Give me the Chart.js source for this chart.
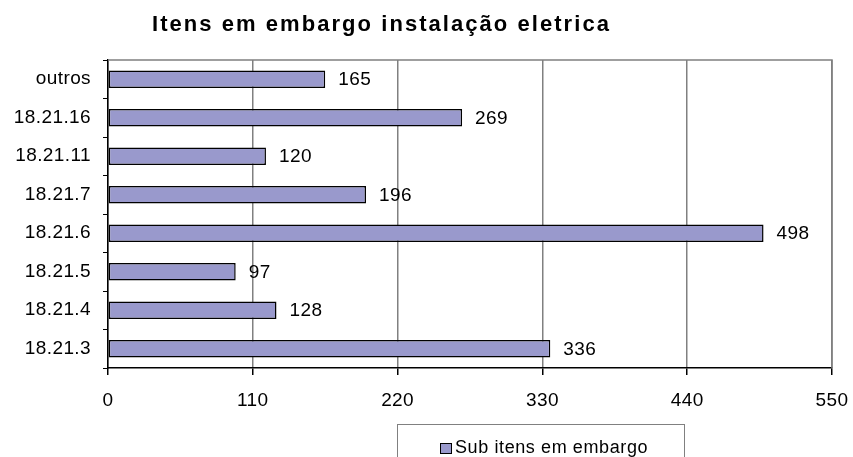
<!DOCTYPE html>
<html lang="pt">
  <head>
    <meta charset="UTF-8" />
    <title>Itens em embargo instalação eletrica</title>
    <script src="https://cdn.jsdelivr.net/npm/chart.js"></script>
    <style>
      body {
        margin: 0;
        background: #fff;
        font-family: "Liberation Sans", Arial, sans-serif;
      }
      .wrap {
        position: relative;
        width: 853px;
        height: 457px;
        overflow: hidden;
      }
      h1 {
        position: absolute;
        left: 152px;
        top: 11px;
        margin: 0;
        white-space: nowrap;
        font-size: 22px;
        font-weight: bold;
        letter-spacing: 2.05px;
        color: #000;
      }
      .legend {
        position: absolute;
        left: 397px;
        top: 424px;
        width: 288px;
        height: 60px;
        border: 1.5px solid #808080;
        box-sizing: border-box;
        font-size: 18px;
        letter-spacing: 0.6px;
        color: #000;
      }
      .legend span.box {
        position: absolute;
        left: 42px;
        top: 18px;
        width: 10px;
        height: 9px;
        background: #9999cc;
        border: 1px solid #000;
      }
      .legend span.txt {
        position: absolute;
        left: 57px;
        top: 12px;
        white-space: nowrap;
      }
    </style>
  </head>
  <body>
    <div class="wrap">
      <canvas id="chart" width="853" height="457"></canvas>
      <h1>Itens em embargo instalação eletrica</h1>
      <div class="legend"><span class="box"></span><span class="txt">Sub itens em embargo</span></div>
    </div>

    <script>
      const categories = ["outros", "18.21.16", "18.21.11", "18.21.7", "18.21.6", "18.21.5", "18.21.4", "18.21.3"]
      const values = [165, 269, 120, 196, 498, 97, 128, 336]
      const seriesName = "Sub itens em embargo"

      const fontFamily = "'Liberation Sans', Arial, sans-serif"

      // a little extra spacing for every canvas text
      const spacing = {
        id: "spacing",
        beforeDraw(chart) {
          chart.ctx.letterSpacing = "0.4px"
        },
      }

      // value labels at the end of each bar
      const barLabels = {
        id: "barLabels",
        afterDatasetsDraw(chart) {
          const ctx = chart.ctx
          const meta = chart.getDatasetMeta(0)
          ctx.save()
          ctx.font = "19px " + fontFamily
          ctx.fillStyle = "#000"
          ctx.textBaseline = "middle"
          meta.data.forEach((bar, i) => {
            ctx.fillText(values[i], bar.x + 13, bar.y + 1)
          })
          ctx.restore()
        },
      }

      // grey frame on top / right of plot area
      const frame = {
        id: "frame",
        beforeDatasetsDraw(chart) {
          const { ctx, chartArea: a } = chart
          ctx.save()
          ctx.strokeStyle = "#808080"
          ctx.lineWidth = 1.5
          ctx.beginPath()
          ctx.moveTo(a.left, a.top)
          ctx.lineTo(a.right, a.top)
          ctx.lineTo(a.right, a.bottom)
          ctx.stroke()
          ctx.restore()
        },
      }

      new Chart(document.getElementById("chart"), {
        type: "bar",
        data: {
          labels: categories,
          datasets: [
            {
              label: seriesName,
              data: values,
              backgroundColor: "#9999cc",
              borderColor: "#000",
              borderWidth: 1.5,
              borderSkipped: false,
              barPercentage: 0.45,
              categoryPercentage: 1,
            },
          ],
        },
        options: {
          indexAxis: "y",
          responsive: false,
          animation: false,
          layout: { padding: { top: 60, right: 21, left: 0, bottom: 0 } },
          plugins: {
            legend: { display: false },
            title: { display: false },
            tooltip: { enabled: false },
          },
          scales: {
            x: {
              min: 0,
              max: 550,
              afterFit: (s) => {
                s.height = 89
                s.paddingLeft = 0
                s.paddingRight = 0
              },
              ticks: {
                stepSize: 110,
                color: "#000",
                padding: 14,
                font: { size: 19, family: fontFamily },
              },
              grid: {
                color: "#808080",
                lineWidth: 1.5,
                tickColor: "#000",
                tickLength: 7,
              },
              border: { color: "#000", width: 1.5 },
            },
            y: {
              afterFit: (s) => (s.width = 108),
              ticks: {
                color: "#000",
                padding: 12,
                font: { size: 19, family: fontFamily },
              },
              grid: {
                offset: true,
                drawOnChartArea: false,
                tickColor: "#000",
                tickLength: 5,
                lineWidth: 1,
              },
              border: { color: "#000", width: 1.5 },
            },
          },
        },
        plugins: [spacing, frame, barLabels],
      })
    </script>
  </body>
</html>
